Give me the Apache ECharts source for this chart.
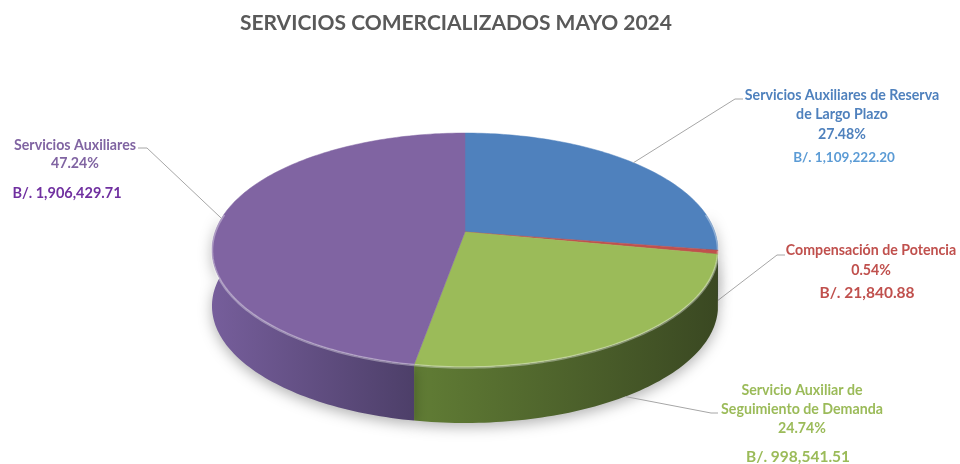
<!DOCTYPE html>
<html>
<head>
<meta charset="utf-8">
<script src="https://cdn.jsdelivr.net/npm/echarts@6/dist/echarts.min.js"></script>
<style>
  html, body { margin: 0; padding: 0; background: #fff; }
  #main { width: 960px; height: 464px; }
</style>
</head>
<body>
<div id="main"></div>
<script>
// datos del grafico
var categories = [
  "Servicios Auxiliares de Reserva\nde Largo Plazo",
  "Compensación de Potencia",
  "Servicio Auxiliar de\nSeguimiento de Demanda",
  "Servicios Auxiliares"
];
var amounts = [1109222.20, 21840.88, 998541.51, 1906429.71];

// colores
var topColors = ["#4F81BD", "#C0504D", "#9BBB59", "#8064A2"];
var sideColors = [["#3d6593", "#2c4a6d"], ["#9a3c3a", "#6e2a28"], ["#617d35", "#3a4822"], ["#765e9b", "#4d3f69"]];
var nameColors = ["#4F81BD", "#C0504D", "#9BBB59", "#8064A2"];
var amountColors = ["#5B9BD5", "#C0504D", "#9BBB59", "#7030A0"];

// geometria del pastel 3D (con perspectiva)
var CX = 465, CY = 232, RX = 250, RY = 114.2, PERSP = 0.154, DEPTH = 56;

// posicion de etiquetas
var labelLayout = [
  { x: 842, nameY: 95, pctY: 134, amtX: 844, amtY: 158, amtSize: 13.5, tick: [735, 743, 99], anchorDeg: 48, anchorDy: 0 },
  { x: 871, nameY: 250, pctY: 270, amtX: 867, amtY: 293, amtSize: 15.5, tick: [777, 785, 255], anchorDeg: 101, anchorDy: 46 },
  { x: 802, nameY: 390, pctY: 428, amtX: 798, amtY: 457, amtSize: 15.5, tick: [711, 718, 413], anchorDeg: 146, anchorDy: 56 },
  { x: 75, nameY: 145, pctY: 163, amtX: 67, amtY: 193, amtSize: 14.5, tick: [147, 138, 148], anchorDeg: 277, anchorDy: 0 }
];

var FONT = "Lato, 'Open Sans', sans-serif";
var NAME_SIZE = 14.2;
var total = amounts.reduce(function (a, b) { return a + b; }, 0);

function pt(t, dy) {
  var d = 1 + PERSP * Math.cos(t);
  return [CX + RX * Math.sin(t) / d, CY - RY * Math.cos(t) / d + (dy || 0)];
}

function arc(a, b, dy) {
  var pts = [];
  var n = Math.max(2, Math.ceil(Math.abs(b - a) / 0.02));
  for (var k = 0; k <= n; k++) {
    pts.push(pt(a + (b - a) * k / n, dy));
  }
  return pts;
}

function fmtMoney(v) {
  return "B/. " + v.toLocaleString("en-US", { minimumFractionDigits: 2, maximumFractionDigits: 2 });
}

function renderItem(params, api) {
  var i = params.dataIndex;
  var before = 0;
  for (var j = 0; j < i; j++) before += amounts[j];
  var v = api.value(0);
  var start = before / total * Math.PI * 2;
  var end = (before + v) / total * Math.PI * 2;
  var children = [];

  // cara lateral (solo la parte frontal)
  var lo = Math.PI / 2 - 0.16, hi = Math.PI * 1.5 + 0.16;
  var a = Math.max(start, lo), b = Math.min(end, hi);
  if (a < b) {
    var side = arc(a, b, 0).concat(arc(b, a, DEPTH));
    children.push({
      type: "polygon",
      shape: { points: side },
      style: {
        fill: new echarts.graphic.LinearGradient(0, 0, 1, 0, [
          { offset: 0, color: sideColors[i][0] },
          { offset: 1, color: sideColors[i][1] }
        ]),
        shadowBlur: 14,
        shadowColor: "rgba(0,0,0,0.3)",
        shadowOffsetY: 4
      }
    });
  }

  // cara superior
  var topPts = [[CX, CY]].concat(arc(start, end, 0));
  children.push({
    type: "polygon",
    shape: { points: topPts },
    style: { fill: topColors[i], stroke: topColors[i], lineWidth: 0.5 }
  });
  if (a < b) {
    // brillo del borde frontal
    children.push({
      type: "polyline",
      shape: { points: arc(a, b, 0.5) },
      style: { stroke: "rgba(255,255,255,0.35)", lineWidth: 2.5, fill: null }
    });
  }

  // etiqueta
  var L = labelLayout[i];
  var anchor = pt(L.anchorDeg * Math.PI / 180, L.anchorDy);
  children.push({
    type: "polyline",
    shape: { points: [[L.tick[1], L.tick[2]], [L.tick[0], L.tick[2]], anchor] },
    style: { stroke: "#A6A6A6", lineWidth: 1, fill: null }
  });
  var lines = categories[i].split("\n");
  lines.forEach(function (s, k) {
    children.push({
      type: "text",
      style: {
        text: s, x: L.x, y: L.nameY + k * 19.5, align: "center", verticalAlign: "middle",
        fill: nameColors[i], font: "bold " + NAME_SIZE + "px " + FONT
      }
    });
  });
  children.push({
    type: "text",
    style: {
      text: (v / total * 100).toFixed(2) + "%", x: L.x, y: L.pctY, align: "center", verticalAlign: "middle",
      fill: nameColors[i], font: "bold " + NAME_SIZE + "px " + FONT
    }
  });
  children.push({
    type: "text",
    style: {
      text: fmtMoney(v), x: L.amtX, y: L.amtY, align: "center", verticalAlign: "middle",
      fill: amountColors[i], font: "bold " + L.amtSize + "px " + FONT
    }
  });

  return { type: "group", children: children };
}

var myChart = echarts.init(document.getElementById("main"));
var option = {
  animation: false,
  title: {
    text: "SERVICIOS COMERCIALIZADOS MAYO 2024",
    left: 235,
    top: 8,
    textStyle: { fontFamily: FONT, fontWeight: "bold", fontSize: 21, color: "#595959" }
  },
  series: [{
    type: "custom",
    coordinateSystem: "none",
    renderItem: renderItem,
    data: amounts.map(function (v, i) { return { name: categories[i], value: [v] }; })
  }]
};
myChart.setOption(option);
window.onresize = myChart.resize;
</script>
</body>
</html>
